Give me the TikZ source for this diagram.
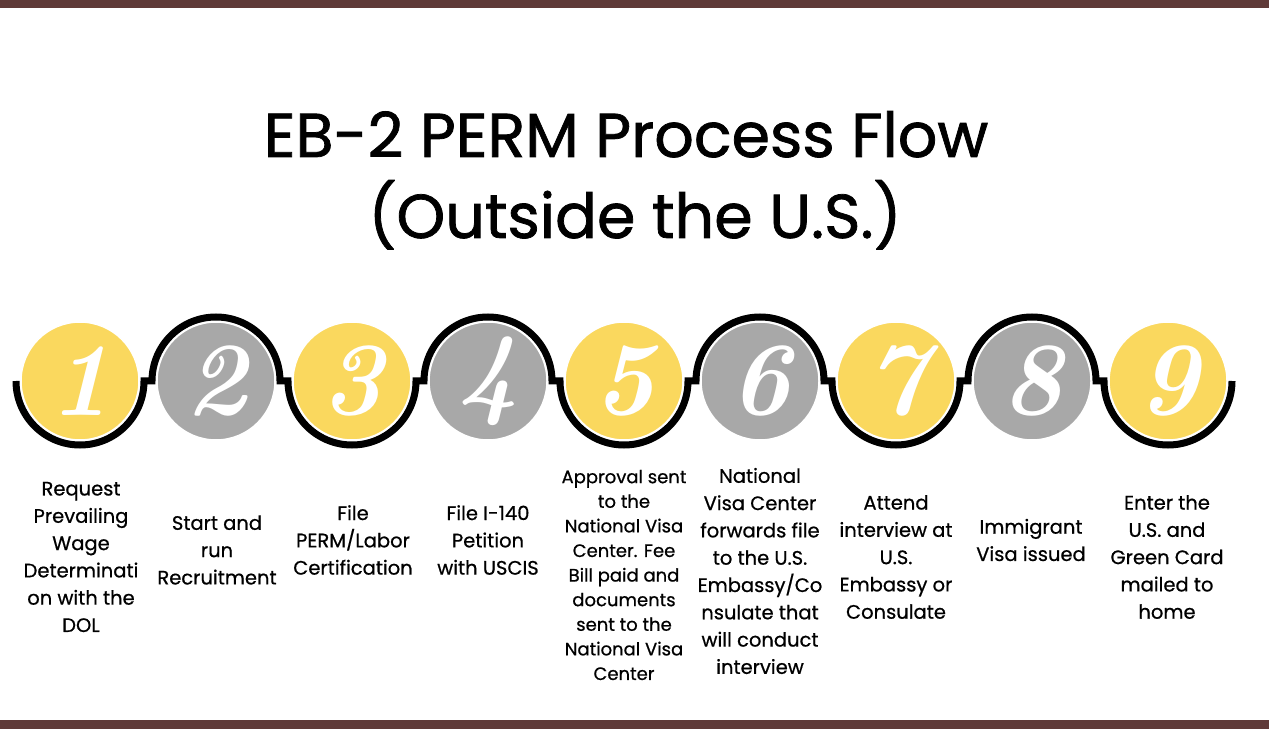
\documentclass[tikz,border=0pt]{standalone}
\usepackage{fontspec}
\usepackage{tikz}
\newfontfamily\labelfont{Poppins}[FakeBold=0.7]
\newfontfamily\titlefont{Poppins}[FakeBold=1.2]
\definecolor{barbrown}{HTML}{5F3A38}
\definecolor{ballyellow}{HTML}{FAD85E}
\definecolor{ballgray}{HTML}{A8A8A8}

\begin{document}
\begin{tikzpicture}[x=1pt,y=1pt,
    ball/.style={circle,minimum size=118pt,inner sep=0pt,draw=white,line width=1.5pt,
        text=white,font=\fontsize{104}{104}\selectfont\bfseries\itshape},
    yellowball/.style={ball,fill=ballyellow},
    grayball/.style={ball,fill=ballgray},
    steptext/.style={align=center,font=\labelfont\fontsize{19.5}{27.3}\selectfont},
    wave/.style={line width=7pt,black,line join=miter}]

    \useasboundingbox (0,0) rectangle (1269,729);

    % brown bars
    \fill[barbrown] (0,721) rectangle (1269,729);
    \fill[barbrown] (0,0) rectangle (1269,9);

    % title
    \node[anchor=base,font=\titlefont\fontsize{62}{62}\selectfont] (title1) at (626,572) {EB-2 PERM Process Flow};
    \node[anchor=base,font=\titlefont\fontsize{62}{62}\selectfont] (title2) at (635,491) {(Outside the U.S.)};

    % wavy line
    \draw[wave] (16,348) arc[start angle=180,end angle=360,radius=64] -- (152,348)
        arc[start angle=180,end angle=0,radius=64] -- (288,348)
        arc[start angle=180,end angle=360,radius=64] -- (424,348)
        arc[start angle=180,end angle=0,radius=64] -- (560,348)
        arc[start angle=180,end angle=360,radius=64] -- (696,348)
        arc[start angle=180,end angle=0,radius=64] -- (832,348)
        arc[start angle=180,end angle=360,radius=64] -- (968,348)
        arc[start angle=180,end angle=0,radius=64] -- (1104,348)
        arc[start angle=180,end angle=360,radius=64];

    % steps
    \node[yellowball] (s1) at (80,348) {1};
    \node[grayball] (s2) at (216,348) {2};
    \node[yellowball] (s3) at (352,348) {3};
    \node[grayball] (s4) at (488,348) {4};
    \node[yellowball] (s5) at (624,348) {5};
    \node[grayball] (s6) at (760,348) {6};
    \node[yellowball] (s7) at (896,348) {7};
    \node[grayball] (s8) at (1032,348) {8};
    \node[yellowball] (s9) at (1168,348) {9};

    % step texts
    \node[steptext] (t1) at (81,172) {Request\\Prevailing\\Wage\\Determinati\\on with the\\DOL};
    \node[steptext] (t2) at (217,179) {Start and\\run\\Recruitment};
    \node[steptext] (t3) at (353,189) {File\\PERM/Labor\\Certification};
    \node[steptext] (t4) at (488,189) {File I-140\\Petition\\with USCIS};
    \node[steptext,font=\labelfont\fontsize{18}{24.6}\selectfont] (t5) at (624,154)
        {Approval sent\\to the\\National Visa\\Center. Fee\\Bill paid and\\documents\\sent to the\\National Visa\\Center};
    \node[steptext] (t6) at (760,158) {National\\Visa Center\\forwards file\\to the U.S.\\Embassy/Co\\nsulate that\\will conduct\\interview};
    \node[steptext] (t7) at (896,172) {Attend\\interview at\\U.S.\\Embassy or\\Consulate};
    \node[steptext] (t8) at (1031,189) {Immigrant\\Visa issued};
    \node[steptext] (t9) at (1167,172) {Enter the\\U.S. and\\Green Card\\mailed to\\home};

\end{tikzpicture}
\end{document}
